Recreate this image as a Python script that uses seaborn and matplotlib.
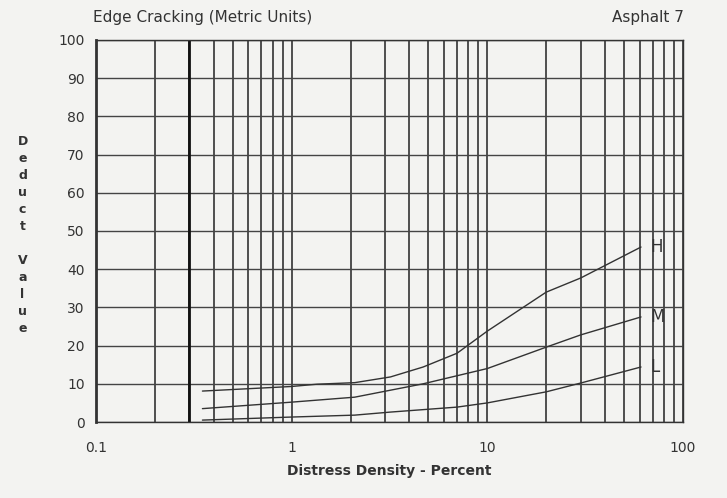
import numpy as np
import pandas as pd
import seaborn as sns
import matplotlib.pyplot as plt
from matplotlib.ticker import FixedLocator, NullFormatter

# Values
density_h = [0.35, 1.0, 1.35, 2.1, 3.2, 4.7, 7.0, 10.0, 20.0, 30.0, 61.0]
deduct_h = [8.1, 9.3, 9.9, 10.3, 11.8, 14.4, 18.0, 23.8, 34.0, 37.7, 45.8]

density_m = [0.35, 1.0, 2.1, 4.7, 10.0, 20.0, 30.0, 61.0]
deduct_m = [3.5, 5.2, 6.5, 10.0, 14.0, 19.6, 22.8, 27.5]

density_l = [0.35, 1.0, 2.1, 3.2, 7.0, 10.0, 20.0, 30.0, 61.0]
deduct_l = [0.5, 1.3, 1.8, 2.6, 3.9, 5.0, 7.9, 10.2, 14.4]

severity = ['H', 'M', 'L']
x_ticks = [0.1, 1, 10, 100]
x_tick_labels = ['0.1', '1', '10', '100']
y_ticks = list(range(0, 101, 10))

df = pd.concat([
    pd.DataFrame({'density': density_h, 'deduct': deduct_h, 'level': 'H'}),
    pd.DataFrame({'density': density_m, 'deduct': deduct_m, 'level': 'M'}),
    pd.DataFrame({'density': density_l, 'deduct': deduct_l, 'level': 'L'}),
])

sns.set_style('white')
plt.rcParams['font.family'] = ['DejaVu Sans']

fig = plt.figure(figsize=(7.27, 4.98), dpi=100)
fig.patch.set_facecolor('#f3f3f1')
ax = fig.add_axes([0.132, 0.1526, 0.8075, 0.7671])
ax.set_facecolor('#f3f3f1')

sns.lineplot(data=df, x='density', y='deduct', units='level', estimator=None,
             color='#333333', linewidth=1.0, ax=ax, legend=False)

ax.set_xscale('log')
ax.set_xlim(0.1, 100)
ax.set_ylim(0, 100)

# log paper grid: every integer multiple within each decade
minor = [m * 10.0 ** d for d in (-1, 0, 1) for m in range(2, 10)]
ax.xaxis.set_minor_locator(FixedLocator(minor))
ax.xaxis.set_minor_formatter(NullFormatter())
ax.set_xticks(x_ticks)
ax.set_xticklabels(x_tick_labels)
ax.set_yticks(y_ticks)
ax.grid(True, which='both', axis='x', color='#222222', linewidth=1.1)
ax.grid(True, which='major', axis='y', color='#444444', linewidth=1.0)
ax.axvline(0.3, color='#111111', linewidth=2.0)

for s in ax.spines.values():
    s.set_color('#333333')
    s.set_linewidth(1.0)
ax.spines['left'].set_linewidth(2.0)

ax.tick_params(axis='both', which='both', length=0, labelsize=10, colors='#333333')
ax.tick_params(axis='x', pad=14)
ax.tick_params(axis='y', pad=8)

# curve labels
for lvl in severity:
    sub = df[df['level'] == lvl]
    ax.text(sub['density'].iloc[-1] * 1.12, sub['deduct'].iloc[-1], lvl,
            fontsize=12, color='#333333', va='center', ha='left')

ax.set_xlabel('Distress Density - Percent', fontsize=10, fontweight='bold',
              color='#333333', labelpad=6)
ax.set_ylabel('')
fig.text(0.031, 0.528, '\n'.join('Deduct Value'), fontsize=9, color='#333333',
         ha='center', va='center', linespacing=1.4, fontweight='bold')

fig.text(0.128, 0.965, 'Edge Cracking (Metric Units)', fontsize=11, color='#333333',
         ha='left', va='center')
fig.text(0.94, 0.965, 'Asphalt 7', fontsize=11, color='#333333', ha='right', va='center')

fig.savefig('out.png', dpi=100, facecolor=fig.get_facecolor())
